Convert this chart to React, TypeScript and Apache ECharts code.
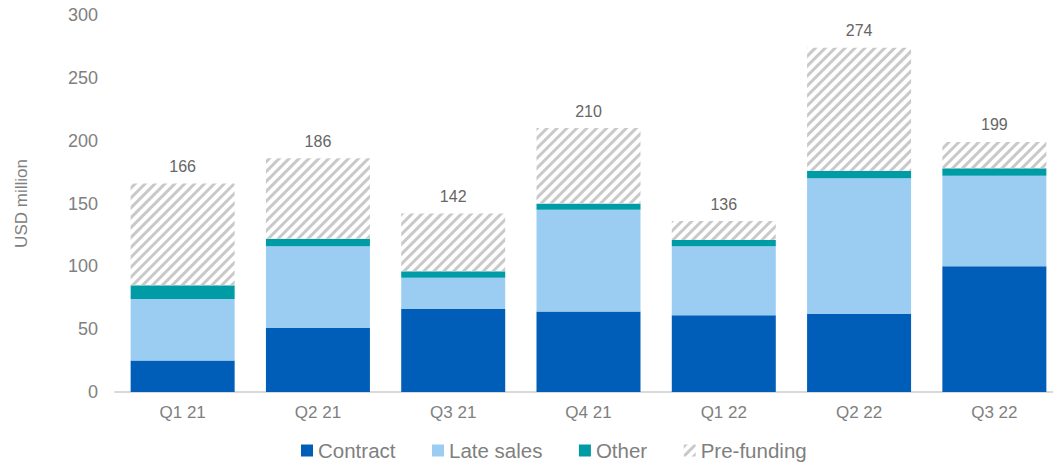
import React, { useEffect, useRef } from "react";
import * as echarts from "echarts";

const categories = ["Q1 21", "Q2 21", "Q3 21", "Q4 21", "Q1 22", "Q2 22", "Q3 22"];
const contract = [25, 51, 66, 64, 61, 62, 100];
const lateSales = [49, 65, 25, 81, 55, 108, 72];
const other = [11, 6, 5, 5, 5, 6, 6];
const preFunding = [81, 64, 46, 60, 15, 98, 21];
const yTicks = { min: 0, max: 300, interval: 50 };

const totals = categories.map((_, i) => contract[i] + lateSales[i] + other[i] + preFunding[i]);

export default function App() {
  const ref = useRef<HTMLDivElement>(null);
  useEffect(() => {
    if (!ref.current) return;
    const chart = echarts.init(ref.current, undefined, { renderer: "svg" });
    const font = "'Liberation Sans', Arial, sans-serif";
    chart.setOption({
      animation: false,
      textStyle: { fontFamily: font },
      grid: { left: 115, right: 0, top: 15, bottom: 74 },
      legend: {
        left: 296,
        top: 435,
        itemWidth: 12,
        itemHeight: 12,
        itemGap: 36.5,
        icon: "rect",
        textStyle: { fontSize: 20.5, color: "#7f7f7f", fontFamily: font },
        data: ["Contract", "Late sales", "Other", "Pre-funding"],
      },
      xAxis: {
        type: "category",
        data: categories,
        axisLine: { lineStyle: { color: "#d9d9d9", width: 2 } },
        axisTick: { show: false },
        axisLabel: { color: "#808080", fontSize: 17, margin: 12, fontFamily: font },
      },
      yAxis: {
        type: "value",
        min: yTicks.min,
        max: yTicks.max,
        interval: yTicks.interval,
        name: "USD million",
        nameLocation: "middle",
        nameGap: 85,
        nameTextStyle: { color: "#808080", fontSize: 17, fontFamily: font },
        axisLine: { show: false },
        axisTick: { show: false },
        splitLine: { show: false },
        axisLabel: { color: "#808080", fontSize: 18, margin: 17, fontFamily: font },
      },
      series: [
        {
          name: "Contract",
          type: "bar",
          stack: "t",
          barWidth: 104,
          data: contract,
          itemStyle: { color: "#005eb8" },
        },
        {
          name: "Late sales",
          type: "bar",
          stack: "t",
          data: lateSales,
          itemStyle: { color: "#9bcdf2" },
        },
        {
          name: "Other",
          type: "bar",
          stack: "t",
          data: other,
          itemStyle: { color: "#009ca6" },
        },
        {
          name: "Pre-funding",
          type: "bar",
          stack: "t",
          data: preFunding,
          itemStyle: {
            color: "#ffffff",
            decal: {
              symbol: "rect",
              symbolSize: 1,
              dashArrayX: [1, 0],
              dashArrayY: [2.6, 3.2],
              rotation: -Math.PI / 4,
              color: "#c9c9c9",
              backgroundColor: "#ffffff",
            },
          },
          label: {
            show: true,
            position: "top",
            distance: 9,
            color: "#666666",
            fontSize: 16,
            fontFamily: font,
            formatter: (p: any) => String(totals[p.dataIndex]),
          },
        },
      ],
    });
    return () => chart.dispose();
  }, []);
  return (
    <div
      style={{ position: "fixed", left: 0, top: 0, width: 1053, height: 466, overflow: "hidden", background: "#fff" }}
    >
      <div ref={ref} style={{ width: 1062, height: 466 }} />
    </div>
  );
}
